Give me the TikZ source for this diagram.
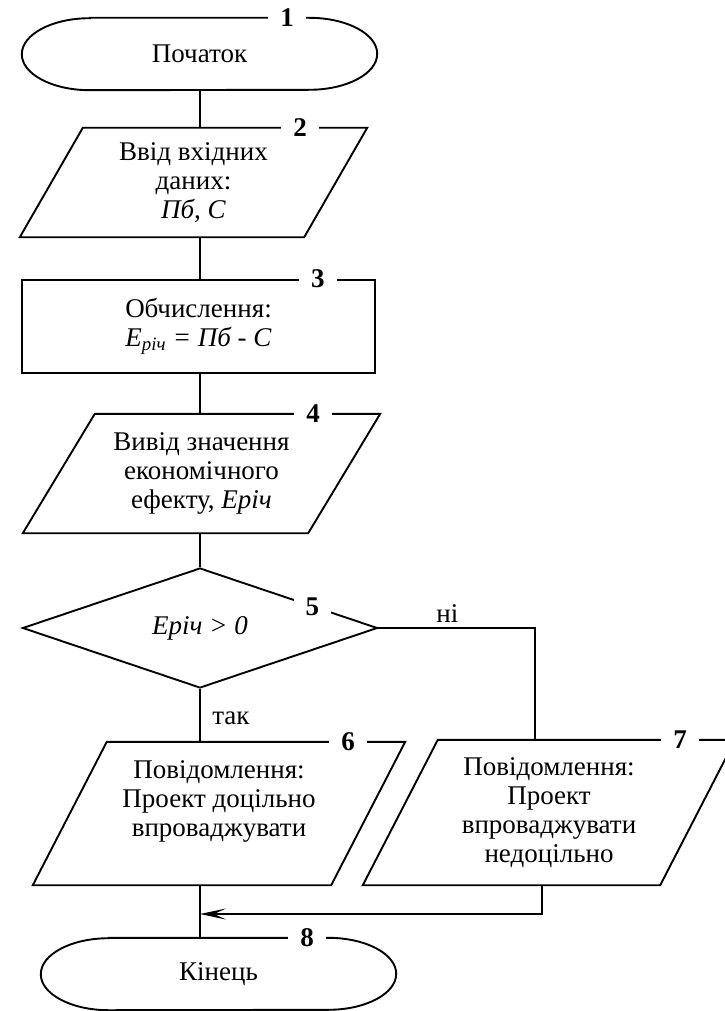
\documentclass[tikz,border=0pt]{standalone}
\usepackage{fontspec}
\setmainfont{Liberation Serif}
\usetikzlibrary{arrows.meta,calc,shapes.geometric}

\begin{document}
\begin{tikzpicture}[x=1pt,y=1pt,
 font=\fontsize{27}{29}\selectfont,
 every node/.style={align=center},
 ln/.style={line width=1.9pt},
 arr/.style={ln,-{Stealth[length=26pt,width=11pt,inset=12pt]}},
 term/.style={minimum width=355pt,minimum height=72pt,inner sep=0pt},
 para/.style={rectangle,inner sep=0pt},
 proc/.style={draw,ln,rectangle,inner sep=0pt},
 decis/.style={draw,ln,diamond,inner sep=0pt,minimum width=355pt,minimum height=120pt},
 num/.style={fill=white,inner xsep=12pt,inner ysep=1pt,font=\fontsize{27}{29}\selectfont\bfseries}]
 \useasboundingbox (0,0) rectangle (724,-1011);
 \coordinate (ax) at (200,0);
 \coordinate (j8) at (200,-914);
 \node[term] (t1) at (199.5,-54) {Початок};
 \node[para,minimum width=347pt,minimum height=109pt] (b2) at (193.5,-182.5) {Ввід вхідних\\даних:\\\textit{Пб, С}};
 \node[proc,minimum width=353pt,minimum height=93pt] (b3) at (198.5,-326.5) {Обчислення:\\\textit{Е\textsubscript{річ} = Пб - С}};
 \node[para,minimum width=357pt,minimum height=119pt] (b4) at (201.5,-473.5) {Вивід значення\\економічного\\ефекту, \textit{Еріч}};
 \node[decis] (d5) at (200,-628) {\textit{Еріч > 0}};
 \node[para,minimum width=372pt,minimum height=143pt] (b6) at (219,-813.5) {Повідомлення:\\Проект доцільно\\впроваджувати\\\mbox{}};
 \node[para,minimum width=372pt,minimum height=145pt] (b7) at (549,-812.5) {Повідомлення:\\Проект\\впроваджувати\\недоцільно};
 \node[term] (t8) at (218.5,-974) {Кінець};
 \foreach \t in {t1,t8}
  \draw[ln] ($(\t.north west)+(68,0)$) -- ($(\t.north east)+(-68,0)$) arc[start angle=90,end angle=-90,x radius=68pt,y radius=36pt]
   -- ($(\t.south west)+(68,0)$) arc[start angle=270,end angle=90,x radius=68pt,y radius=36pt] -- cycle;
 \foreach \b/\s in {b2/63,b4/72,b6/74,b7/75}
  \draw[ln] ($(\b.north west)+(\s,0)$) -- (\b.north east) -- ($(\b.south east)+(-\s,0)$) -- (\b.south west) -- cycle;
 \draw[ln] (ax |- t1.south) -- (ax |- b2.north);
 \draw[ln] (ax |- b2.south) -- (ax |- b3.north);
 \draw[ln] (ax |- b3.south) -- (ax |- b4.north);
 \draw[ln] (ax |- b4.south) -- (d5.north);
 \draw[ln] (d5.south) -- node[pos=0.55,anchor=west,xshift=8pt]{так} (ax |- b6.north);
 \draw[ln] (d5.east) -| node[pos=0.22,above,inner sep=5pt]{ні} ($(b7.north)+(-14,0)$);
 \draw[ln] (ax |- b6.south) -- (ax |- t8.north);
 \draw[arr] ($(b7.south)+(-7,0)$) |- (j8);
 \node[num] (n1) at ($(t1.north east)+(-90,0)$) {1};
 \node[num] (n2) at ($(b2.north east)+(-67,0)$) {2};
 \node[num] (n3) at ($(b3.north east)+(-58,0)$) {3};
 \node[num] (n4) at ($(b4.north east)+(-67,0)$) {4};
 \node[num] (n5) at ($(d5.east)+(-66,21)$) {5};
 \node[num] (n6) at ($(b6.north east)+(-57,0)$) {6};
 \node[num] (n7) at ($(b7.north east)+(-55,0)$) {7};
 \node[num] (n8) at ($(t8.north east)+(-89,0)$) {8};
\end{tikzpicture}
\end{document}
